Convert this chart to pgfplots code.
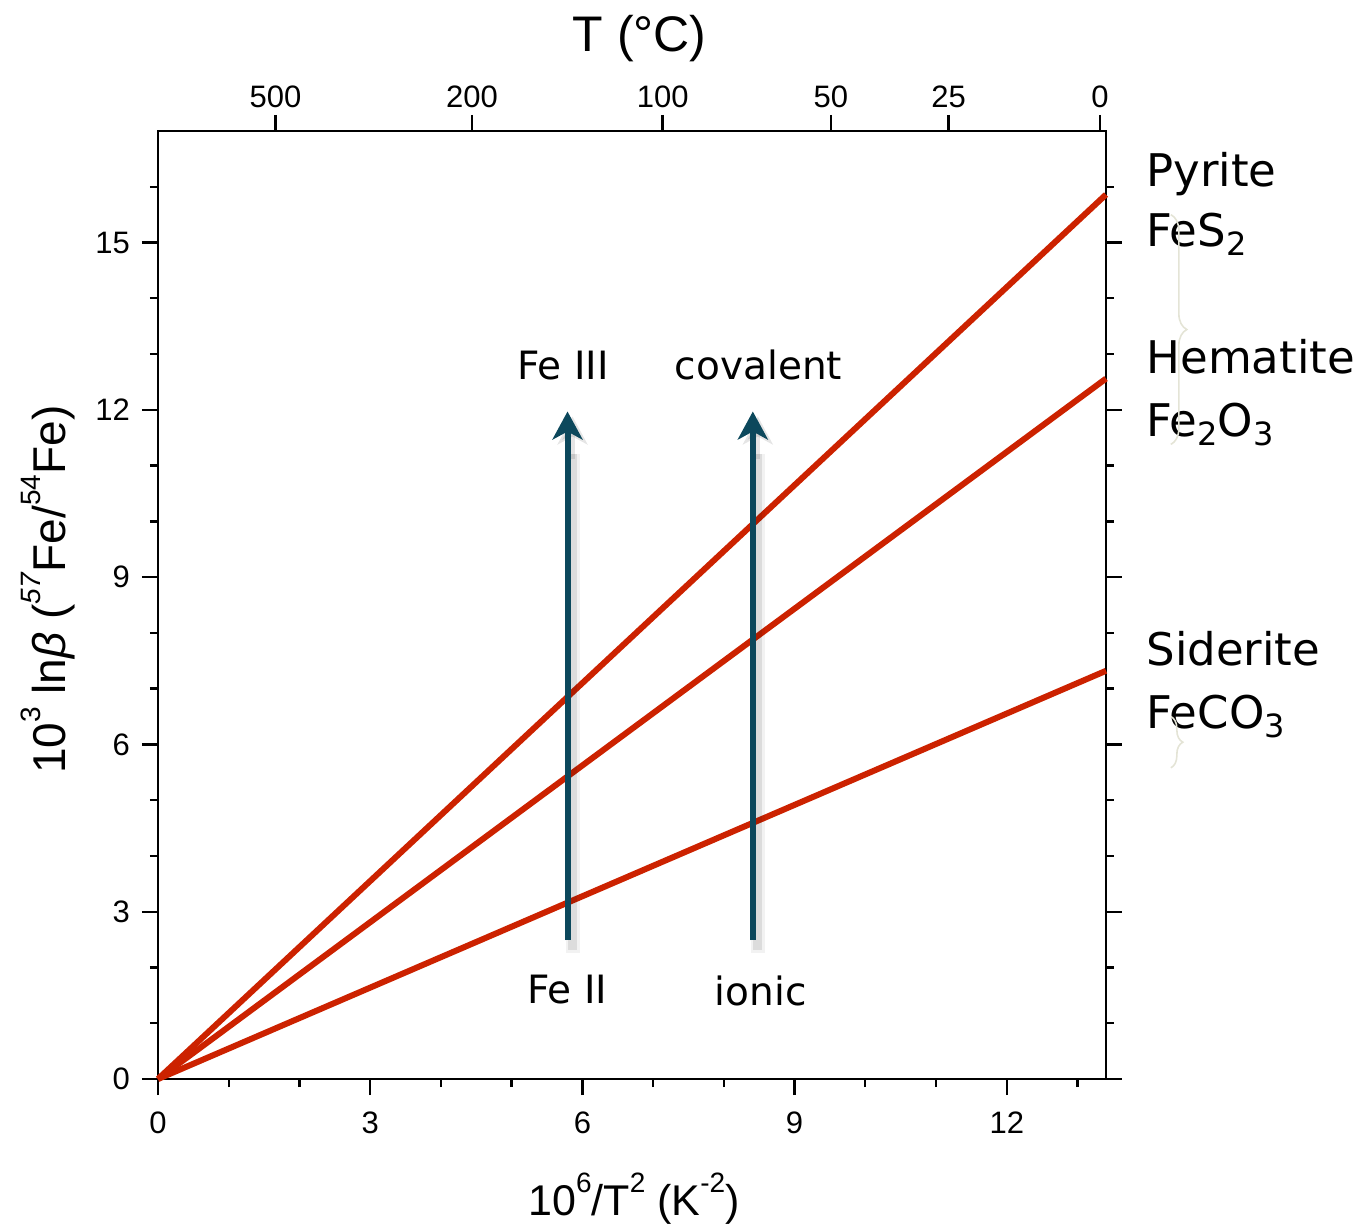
\documentclass[border=0pt]{standalone}
\usepackage{pgfplots}
\pgfplotsset{compat=1.18}
\usepackage{fontspec}
\setmainfont{Liberation Sans}
\newfontfamily\annfont{DejaVu Sans}
\usetikzlibrary{arrows.meta,decorations.pathreplacing}
\definecolor{linered}{RGB}{204,34,0}
\definecolor{arrowteal}{RGB}{12,72,92}
\definecolor{bracecol}{RGB}{228,228,214}
\newcommand{\sub}[1]{\raisebox{-0.35ex}{\fontsize{16}{18}\selectfont #1}}
\newcommand{\sps}[1]{\raisebox{1.0ex}{\fontsize{14}{16}\selectfont #1}}

\begin{document}
\begin{tikzpicture}
\begin{axis}[
  name=main,
  scale only axis, width=474pt, height=474pt,
  xmin=0, xmax=13.4031, ymin=0, ymax=17,
  xtick={0,3,6,9,12}, minor xtick={1,2,4,5,7,8,10,11,13},
  ytick={0,3,6,9,12,15}, minor ytick={1,2,4,5,7,8,10,11,13,14,16},
  xtick pos=bottom, ytick pos=both, yticklabel pos=left,
  tick align=outside,
  major tick length=8pt, minor tick length=4pt,
  every tick/.style={line width=1.2pt, black},
  axis line style={line width=1.2pt},
  tick label style={font=\fontsize{15.5}{18}\selectfont},
  /pgf/number format/assume math mode=true,
  xticklabel shift=5pt, yticklabel shift=2.5pt,
  clip=false,
  xlabel={10\sps{6}/T\sps{2} (K\sps{-2})},
  ylabel={10\sps{3} ln\textit{β} (\sps{\textit{57}}Fe/\sps{54}Fe)},
  label style={font=\fontsize{23}{26}\selectfont},
  xlabel style={font=\fontsize{21.5}{24}\selectfont, at={(axis description cs:0.502,0)}, anchor=base, yshift=-68pt},
  ylabel style={at={(axis description cs:-0.116,0.516)}, anchor=center},
]
\addplot[linered, line width=3pt] coordinates {(0,0) (13.4031,15.86)};
\addplot[linered, line width=3pt] coordinates {(0,0) (13.4031,12.56)};
\addplot[linered, line width=3pt] coordinates {(0,0) (13.4031,7.32)};

% soft arrow shadows
\addplot[black, opacity=0.05, line width=7pt, xshift=2.5pt, yshift=-2.5pt] coordinates {(5.79,2.35) (5.79,11.3)};
\addplot[black, opacity=0.09, line width=4.5pt, xshift=2.5pt, yshift=-2.5pt] coordinates {(5.79,2.40) (5.79,11.3)};
\addplot[black, opacity=0.05, line width=7pt, xshift=2.5pt, yshift=-2.5pt] coordinates {(8.41,2.35) (8.41,11.3)};
\addplot[black, opacity=0.09, line width=4.5pt, xshift=2.5pt, yshift=-2.5pt] coordinates {(8.41,2.40) (8.41,11.3)};
\addplot[black, opacity=0.10, line width=2pt, xshift=2.5pt, yshift=-2.5pt,
  -{Stealth[length=14pt,width=15pt,inset=4pt]}] coordinates {(5.79,11.2) (5.79,11.97)};
\addplot[black, opacity=0.10, line width=2pt, xshift=2.5pt, yshift=-2.5pt,
  -{Stealth[length=14pt,width=15pt,inset=4pt]}] coordinates {(8.41,11.2) (8.41,11.97)};
% arrows
\addplot[arrowteal, line width=3pt,
  -{Stealth[length=14pt,width=15pt,inset=4pt]}] coordinates {(5.79,2.49) (5.79,11.97)};
\addplot[arrowteal, line width=3pt,
  -{Stealth[length=14pt,width=15pt,inset=4pt]}] coordinates {(8.41,2.49) (8.41,11.97)};

\node[anchor=base, font=\annfont\fontsize{19.5}{22}\selectfont] at (axis cs:5.73,12.54) {Fe III};
\node[anchor=base, font=\annfont\fontsize{19.5}{22}\selectfont] at (axis cs:8.49,12.54) {covalent};
\node[anchor=base, font=\annfont\fontsize{19.5}{22}\selectfont] at (axis cs:5.79,1.36) {Fe II};
\node[anchor=base, font=\annfont\fontsize{19.5}{22}\selectfont] at (axis cs:8.52,1.31) {ionic};

\node[anchor=base west, inner sep=0pt, font=\annfont\fontsize{22.5}{26}\selectfont] at (axis cs:13.97,16.01) {Pyrite};
\node[anchor=base west, inner sep=0pt, font=\annfont\fontsize{22.5}{26}\selectfont] at (axis cs:13.97,14.93) {FeS\sub{2}};
\node[anchor=base west, inner sep=0pt, font=\annfont\fontsize{22.5}{26}\selectfont] at (axis cs:13.97,12.65) {Hematite};
\node[anchor=base west, inner sep=0pt, font=\annfont\fontsize{22.5}{26}\selectfont] at (axis cs:13.97,11.52) {Fe\sub{2}O\sub{3}};
\node[anchor=base west, inner sep=0pt, font=\annfont\fontsize{22.5}{26}\selectfont] at (axis cs:13.97,7.41) {Siderite};
\node[anchor=base west, inner sep=0pt, font=\annfont\fontsize{22.5}{26}\selectfont] at (axis cs:13.97,6.28) {FeCO\sub{3}};

\draw[bracecol, line width=0.8pt, decorate, decoration={brace, amplitude=8pt}]
  (axis cs:14.32,15.5) -- (axis cs:14.32,11.38);
\draw[bracecol, line width=0.8pt, decorate, decoration={brace, amplitude=6pt}]
  (axis cs:14.32,6.5) -- (axis cs:14.32,5.58);
\end{axis}

\begin{axis}[
  scale only axis, width=474pt, height=474pt,
  xmin=0, xmax=13.49, ymin=0, ymax=17,
  axis x line*=top, hide y axis,
  axis line style={-, line width=1.2pt},
  xtick={1.6729,4.4669,7.1816,9.5760,11.2494,13.4031},
  xticklabels={500,200,100,50,25,0},
  tick align=outside, major tick length=8pt,
  every tick/.style={line width=1.2pt, black},
  tick label style={font=\fontsize{15.5}{18}\selectfont},
  xlabel={T (°C)},
  label style={font=\fontsize{25}{28}\selectfont},
  xlabel style={at={(axis description cs:0.508,1)}, anchor=base, yshift=39.5pt},
]
\addplot[draw=none] coordinates {(0,0) (1,1)};
\end{axis}

\pgfresetboundingbox
\useasboundingbox (main.south west) ++(-79pt,-74.5pt) rectangle ++(678.5pt,614pt);
\end{tikzpicture}
\end{document}
